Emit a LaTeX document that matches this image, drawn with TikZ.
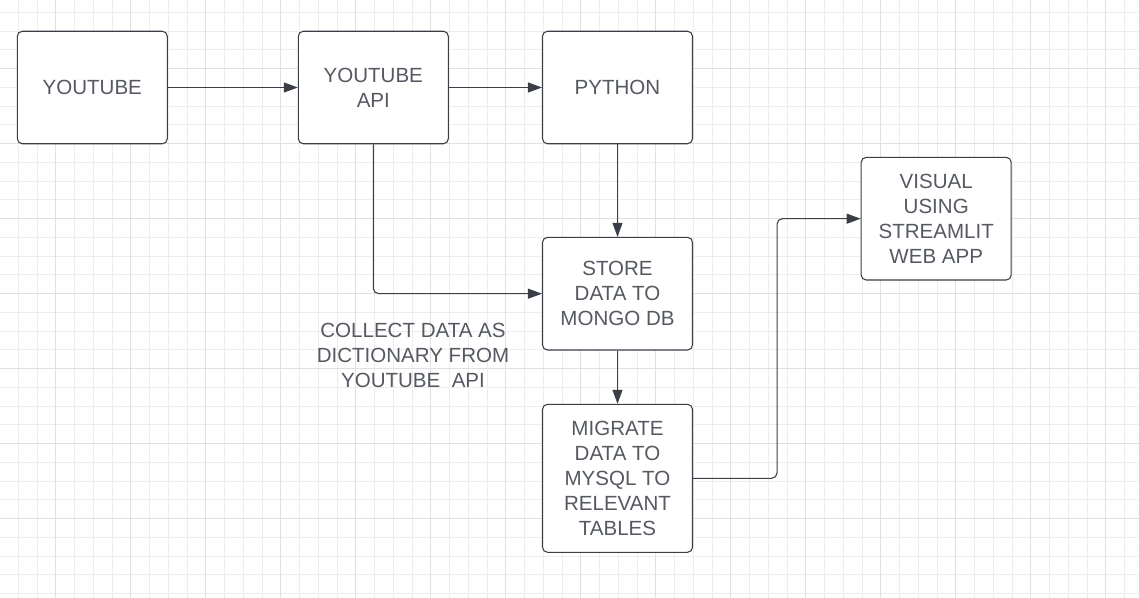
\documentclass[tikz,border=0pt]{standalone}
\usepackage{fontspec}
\setmainfont{Liberation Sans}
\usetikzlibrary{arrows.meta}
\definecolor{txt}{HTML}{555962}
\definecolor{ln}{HTML}{3A3E47}
\definecolor{gridA}{HTML}{EDEDED}
\definecolor{gridB}{HTML}{E0E0E0}
\begin{document}
\begin{tikzpicture}[x=0.75pt,y=-0.75pt,
  box/.style={draw=ln, line width=0.8pt, rounded corners=3.75pt, fill=white,
    minimum width=112.5pt, minimum height=84.4pt, align=center, text=txt,
    font=\fontsize{15.4pt}{18.75pt}\selectfont, inner sep=2pt},
  lbl/.style={align=center, text=txt, font=\fontsize{15.4pt}{18.75pt}\selectfont},
  conn/.style={draw=ln, line width=0.8pt, -{Triangle[length=10.5pt,width=7.5pt]}}]
\useasboundingbox (0,0) rectangle (1139,598);
\fill[white] (0,0) rectangle (1139,598);
% grid
\foreach \i in {0,...,60} {
  \draw[gridA, line width=0.75pt] ({-0.5+18.75*\i},0) -- ({-0.5+18.75*\i},598);
}
\foreach \i in {0,...,31} {
  \draw[gridA, line width=0.75pt] (0,{12.3+18.75*\i}) -- (1139,{12.3+18.75*\i});
}
\foreach \i in {0,...,15} {
  \draw[gridB, line width=0.75pt] ({55.3+75*\i},0) -- ({55.3+75*\i},598);
}
\foreach \i in {0,...,7} {
  \draw[gridB, line width=0.75pt] (0,{-6.7+75*\i}) -- (1139,{-6.7+75*\i});
}
% nodes
\node[box] (yt) at (92.3,87.5) {YOUTUBE};
\node[box] (api) at (373.3,87.5) {YOUTUBE\\API};
\node[box] (py) at (617.5,87.5) {PYTHON};
\node[box, minimum height=84.5pt] (store) at (617.5,293.7) {STORE\\DATA TO\\MONGO DB};
\node[box, minimum height=111pt] (mig) at (617.5,478.3) {MIGRATE\\DATA TO\\MYSQL TO\\RELEVANT\\TABLES};
\node[box, minimum height=92pt] (vis) at (936.2,218.7) {VISUAL\\USING\\STREAMLIT\\WEB APP};
\node[lbl] (collect) at (413,355) {COLLECT DATA AS\\DICTIONARY FROM\\YOUTUBE\ \ API};
% connectors
\draw[conn] (yt.east) -- (api.west);
\draw[conn] (api.east) -- (py.west);
\draw[conn] (py.south) -- (store.north);
\draw[conn, rounded corners=4pt] (api.south) |- (store.west);
\draw[conn] (store.south) -- (mig.north);
\draw[conn, rounded corners=4pt] (mig.east) -- ++(84,0) |- (vis.west);
\end{tikzpicture}
\end{document}
